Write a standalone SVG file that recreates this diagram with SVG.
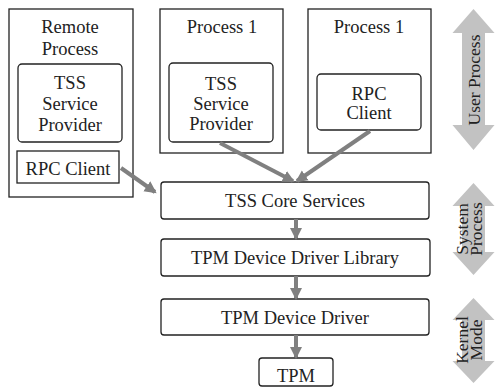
<svg xmlns="http://www.w3.org/2000/svg" width="495" height="387" viewBox="0 0 495 387">
<style>
.box{fill:#fff;stroke:#222;stroke-width:1.3}
.t{font-family:'Liberation Serif','Times New Roman',serif;font-size:18.5px;fill:#222;text-anchor:middle}
.s{font-family:'Liberation Serif','Times New Roman',serif;font-size:17.5px;fill:#222;text-anchor:middle}
.c{stroke:#808080;stroke-width:4;fill:none}
.side{fill:#c2c2c2}
</style>
<defs>
<marker id="ah" markerWidth="14" markerHeight="14" refX="10" refY="7" orient="auto" markerUnits="userSpaceOnUse">
<path d="M0,1 L12,7 L0,13 Z" fill="#808080"/>
</marker>
</defs>
<rect width="495" height="387" fill="#fff"/>
<g id="remote">
<rect class="box" x="9" y="9" width="124" height="188"/>
<text class="t" x="70" y="33">Remote</text>
<text class="t" x="70" y="55">Process</text>
</g>
<g id="remote-tsp">
<rect class="box" x="18" y="64" width="104" height="78" rx="4"/>
<text class="t" x="70" y="89">TSS</text>
<text class="t" x="70" y="110">Service</text>
<text class="t" x="70" y="131">Provider</text>
</g>
<g id="remote-rpc">
<rect class="box" x="17" y="151" width="102" height="32"/>
<text class="t" x="68" y="175">RPC Client</text>
</g>
<g id="proc1a">
<rect class="box" x="160" y="9" width="123" height="144"/>
<text class="t" x="222" y="33">Process 1</text>
</g>
<g id="proc1a-tsp">
<rect class="box" x="169" y="63" width="104" height="79" rx="4"/>
<text class="t" x="221" y="90">TSS</text>
<text class="t" x="221" y="110">Service</text>
<text class="t" x="221" y="130">Provider</text>
</g>
<g id="proc1b">
<rect class="box" x="308" y="9" width="123" height="144"/>
<text class="t" x="369" y="33">Process 1</text>
</g>
<g id="proc1b-rpc">
<rect class="box" x="317" y="74" width="104" height="56" rx="4"/>
<text class="t" x="369" y="100">RPC</text>
<text class="t" x="369" y="119">Client</text>
</g>
<g id="tcs">
<rect class="box" x="161" y="182" width="268" height="37" rx="3"/>
<text class="t" x="295" y="207">TSS Core Services</text>
</g>
<g id="tddl">
<rect class="box" x="161" y="239" width="269" height="37" rx="3"/>
<text class="t" x="295" y="264">TPM Device Driver Library</text>
</g>
<g id="tdd">
<rect class="box" x="161" y="299" width="268" height="36" rx="3"/>
<text class="t" x="295" y="324">TPM Device Driver</text>
</g>
<g id="tpm">
<rect class="box" x="259" y="358" width="74" height="28" rx="3"/>
<text class="t" x="296" y="382">TPM</text>
</g>
<g id="connectors">
<line class="c" x1="220" y1="143" x2="293" y2="181" marker-end="url(#ah)"/>
<line class="c" x1="370" y1="131" x2="297" y2="181" marker-end="url(#ah)"/>
<line class="c" x1="121" y1="168" x2="155" y2="192" marker-end="url(#ah)"/>
<line class="c" x1="296" y1="219" x2="296" y2="238" marker-end="url(#ah)"/>
<line class="c" x1="296" y1="276" x2="296" y2="298" marker-end="url(#ah)"/>
<line class="c" x1="296" y1="335" x2="296" y2="357" marker-end="url(#ah)"/>
</g>
<g id="user-process">
<polygon class="side" points="473.5,9 494.5,33 485,33 485,125 494.5,125 473.5,150 452.5,125 462,125 462,33 452.5,33"/>
<text class="s" transform="translate(480,80) rotate(-90)">User Process</text>
</g>
<g id="system-process">
<polygon class="side" points="473.5,183 494.5,206 485,206 485,252 494.5,252 473.5,275 452.5,252 462,252 462,206 452.5,206"/>
<text class="s" transform="translate(468,229) rotate(-90)">System</text>
<text class="s" transform="translate(482,229) rotate(-90)">Process</text>
</g>
<g id="kernel-mode">
<polygon class="side" points="473.5,298 494.5,320 485,320 485,361 494.5,361 473.5,383 452.5,361 462,361 462,320 452.5,320"/>
<text class="s" transform="translate(468,340) rotate(-90)">Kernel</text>
<text class="s" transform="translate(482,340) rotate(-90)">Mode</text>
</g>
</svg>
